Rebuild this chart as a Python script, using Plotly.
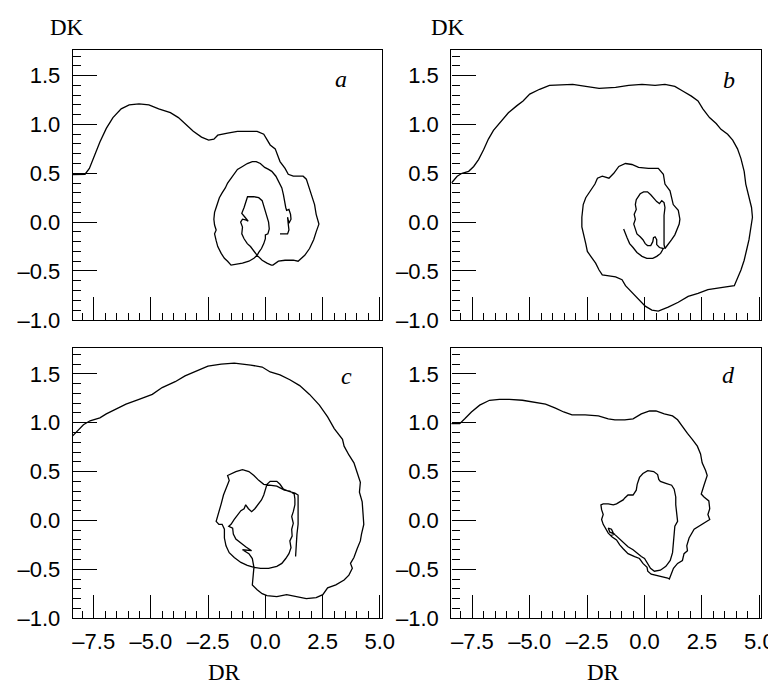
import plotly.graph_objects as go

# ---------------- data (DR, DK) ----------------
a_dr = [-8.42,-7.88,-7.69,-7.49,-7.23,-6.95,-6.66,-6.30,-5.95,-5.52,-5.09,-4.66,-4.15,-3.80,-3.44,-3.15,-2.79,-2.48,-2.25,-2.08,-1.65,-1.22,-0.79,-0.36,-0.07,0.07,0.21,0.43,0.57,0.64,0.86,1.00,1.22,1.65,1.79,1.91,2.01,2.15,2.22,2.34,2.22,2.11,1.93,1.72,1.43,1.22,0.86,0.57,0.33,
        0.26,0.07,-0.14,-0.36,-0.50,-0.65,-0.79,-0.93,-1.03,-1.00,-1.08,-1.00,-0.83,-0.75,-0.89,-1.03,-0.93,-0.86,-0.78,-0.50,-0.29,-0.14,-0.07,0.00,0.07,0.14,0.17,0.11,0.00,0.00,-0.07,-0.17,-0.29,-0.36,-0.50,-0.72,-1.00,-1.29,-1.50,-1.65,-1.79,-1.93,-2.08,-2.15,-2.22,-2.15,-2.22,-2.25,-2.22,-2.15,-2.08,-2.01,-1.89,-1.75,-1.65,-1.50,-1.36,-1.22,-1.00,-0.79,-0.57,-0.40,-0.22,-0.03,0.14,0.28,0.46,0.57,0.72,0.79,0.83,0.89,0.93,1.03,1.10,1.12,1.03,0.97,1.00,1.03,0.97,0.64]
a_dk = [0.486,0.49,0.55,0.67,0.82,0.96,1.07,1.16,1.20,1.21,1.20,1.16,1.12,1.07,0.99,0.93,0.87,0.84,0.85,0.89,0.91,0.93,0.93,0.93,0.90,0.85,0.79,0.75,0.67,0.62,0.55,0.49,0.47,0.47,0.44,0.35,0.27,0.18,0.08,-0.02,-0.10,-0.18,-0.27,-0.34,-0.40,-0.39,-0.39,-0.40,-0.44,
        -0.44,-0.42,-0.39,-0.34,-0.29,-0.25,-0.22,-0.17,-0.12,-0.05,0.00,0.03,0.02,0.01,0.05,0.09,0.15,0.20,0.26,0.26,0.25,0.22,0.17,0.12,0.07,0.00,-0.07,-0.12,-0.13,-0.17,-0.22,-0.27,-0.31,-0.34,-0.37,-0.40,-0.42,-0.43,-0.44,-0.40,-0.37,-0.32,-0.25,-0.19,-0.12,-0.08,-0.03,0.03,0.10,0.15,0.20,0.25,0.30,0.35,0.40,0.45,0.49,0.54,0.57,0.60,0.62,0.62,0.60,0.56,0.54,0.52,0.47,0.42,0.35,0.28,0.22,0.15,0.12,0.13,0.08,0.03,-0.01,0.05,-0.02,-0.08,-0.12,-0.12]

b_dr = [-8.41,-8.16,-7.95,-7.66,-7.44,-7.23,-7.01,-6.80,-6.58,-6.29,-5.93,-5.57,-5.29,-5.00,-4.57,-4.14,-3.56,-3.13,-2.56,-1.98,-1.26,-0.69,-0.11,0.46,0.89,1.32,1.68,2.04,2.33,2.54,2.83,3.12,3.33,3.62,3.84,4.05,4.20,4.34,4.41,4.55,4.66,4.70,4.63,4.55,4.45,4.34,4.20,4.05,3.91,3.33,2.76,2.33,1.90,1.47,1.03,0.60,0.32,0.03,-0.26,-0.55,-0.83,-0.98,-1.26,-1.55,-1.84,-1.98,-2.13,-2.34,-2.49,-2.56,-2.63,-2.73,-2.73,-2.67,-2.56,-2.34,-2.16,-2.05,-1.84,-1.55,-1.34,-1.12,-0.83,-0.55,-0.26,0.17,0.60,0.82,0.89,1.11,1.18,1.25,1.47,1.54,
        1.51,1.42,1.32,1.18,1.03,0.89,0.85,0.85,0.82,0.85,0.89,0.85,0.75,0.65,0.53,0.46,0.39,0.27,0.13,-0.04,-0.19,-0.26,-0.36,-0.40,-0.36,-0.45,-0.40,-0.47,-0.40,-0.33,-0.19,-0.07,0.03,0.13,0.27,0.36,0.39,0.46,0.53,0.53,0.65,0.82,0.70,0.53,0.36,0.10,-0.11,-0.33,-0.50,-0.65,-0.76,-0.83,-0.91]
b_dk = [0.40,0.47,0.50,0.52,0.57,0.64,0.74,0.85,0.94,1.02,1.12,1.19,1.24,1.31,1.36,1.40,1.41,1.41,1.39,1.37,1.38,1.40,1.41,1.40,1.41,1.39,1.34,1.29,1.24,1.16,1.07,1.01,0.95,0.90,0.84,0.75,0.65,0.52,0.39,0.25,0.15,0.05,-0.08,-0.18,-0.28,-0.39,-0.49,-0.57,-0.65,-0.67,-0.69,-0.73,-0.76,-0.82,-0.87,-0.91,-0.90,-0.86,-0.79,-0.72,-0.65,-0.59,-0.56,-0.55,-0.54,-0.49,-0.42,-0.35,-0.30,-0.22,-0.15,-0.05,0.05,0.18,0.25,0.32,0.39,0.45,0.47,0.45,0.50,0.57,0.60,0.59,0.56,0.55,0.55,0.49,0.39,0.32,0.25,0.18,0.12,0.03,
        -0.02,-0.08,-0.13,-0.18,-0.23,-0.27,-0.23,-0.13,-0.03,0.07,0.15,0.20,0.22,0.19,0.21,0.23,0.25,0.28,0.31,0.31,0.29,0.27,0.23,0.18,0.13,0.08,0.03,-0.02,-0.07,-0.12,-0.15,-0.18,-0.22,-0.24,-0.24,-0.20,-0.16,-0.15,-0.18,-0.23,-0.26,-0.27,-0.32,-0.35,-0.37,-0.37,-0.35,-0.31,-0.26,-0.22,-0.16,-0.11,-0.07]

c_dr = [-8.42,-8.17,-7.95,-7.66,-7.23,-6.95,-6.52,-6.09,-5.52,-4.94,-4.51,-3.94,-3.51,-3.01,-2.51,-1.93,-1.36,-0.64,-0.14,0.21,0.64,1.07,1.50,1.93,2.36,2.72,3.01,3.37,3.44,3.65,3.87,4.01,4.15,4.11,4.23,4.27,4.30,4.20,4.15,4.01,3.87,3.72,3.80,3.65,3.44,3.08,2.72,2.51,2.22,1.79,1.36,0.93,0.50,0.07,-0.14,-0.36,-0.57,-0.53,-0.50,
        -0.21,0.14,0.50,0.72,0.89,1.03,1.12,1.07,1.17,1.15,1.22,1.15,1.22,1.29,1.29,1.26,1.07,0.83,0.50,0.14,-0.07,-0.29,-0.50,-0.72,-1.00,-1.29,-1.50,-1.65,-1.58,-1.69,-1.83,-1.93,-2.01,-2.06,-2.12,-2.15,-2.03,-1.89,-1.79,-1.79,-1.72,-1.58,-1.36,-1.07,-0.79,-0.50,
        -0.57,-0.72,-1.00,-0.60,-0.86,-1.07,-1.29,-1.40,-1.43,-1.60,-1.50,-1.36,-1.22,-1.07,-0.93,-0.86,-0.74,-0.60,-0.46,-0.32,-0.17,-0.07,0.00,0.07,0.21,0.50,0.64,0.79,1.00,1.29,1.43,1.43,1.40,1.43,1.38,1.36,1.32]
c_dk = [0.865,0.93,0.98,1.02,1.05,1.09,1.14,1.19,1.24,1.29,1.36,1.42,1.48,1.53,1.58,1.60,1.61,1.59,1.57,1.52,1.49,1.44,1.38,1.29,1.18,1.06,0.94,0.83,0.76,0.67,0.59,0.49,0.39,0.29,0.19,0.06,-0.04,-0.14,-0.21,-0.29,-0.38,-0.44,-0.49,-0.56,-0.61,-0.66,-0.69,-0.76,-0.79,-0.80,-0.78,-0.76,-0.78,-0.77,-0.75,-0.71,-0.66,-0.58,-0.48,
        -0.49,-0.49,-0.47,-0.44,-0.39,-0.34,-0.28,-0.21,-0.16,-0.09,-0.03,0.04,0.09,0.16,0.22,0.27,0.30,0.31,0.35,0.36,0.37,0.41,0.46,0.50,0.52,0.50,0.48,0.46,0.41,0.34,0.26,0.17,0.11,0.05,0.02,-0.01,-0.04,-0.04,-0.09,-0.18,-0.26,-0.33,-0.38,-0.43,-0.46,-0.48,
        -0.39,-0.34,-0.30,-0.31,-0.27,-0.23,-0.19,-0.14,-0.08,-0.06,-0.04,0.01,0.06,0.10,0.12,0.16,0.12,0.09,0.12,0.16,0.21,0.26,0.32,0.37,0.40,0.40,0.37,0.32,0.30,0.28,0.26,0.16,0.06,-0.04,-0.14,-0.24,-0.37]

d_dr = [-8.43,-8.05,-7.83,-7.54,-7.18,-6.75,-6.32,-5.89,-5.32,-4.74,-4.31,-3.88,-3.52,-3.16,-2.59,-2.01,-1.58,-1.29,-0.86,-0.50,-0.14,0.22,0.50,0.86,1.22,1.44,1.65,1.87,2.08,2.30,2.44,2.51,2.66,2.73,2.59,2.47,2.59,2.80,2.84,2.76,2.84,2.59,2.16,1.94,1.84,1.87,1.72,1.65,1.44,1.26,1.15,1.08,1.01,
        0.65,0.29,0.14,0.11,-0.07,-0.22,-0.43,-0.72,-0.93,-1.08,-1.22,-1.41,-1.58,-1.70,-1.80,-1.87,-1.80,-1.87,-1.90,-1.80,-1.58,-1.36,-1.22,-1.08,-0.93,-0.86,-0.72,-0.50,-0.36,-0.32,-0.22,-0.07,0.14,0.40,0.57,0.62,0.69,0.93,1.18,1.29,1.36,1.36,1.39,1.44,1.32,1.29,1.26,1.22,1.12,0.93,0.69,0.43,0.26,0.14,0.00,-0.14,-0.29,-0.50,-0.72,-0.89,-1.08,-1.22,-1.36,-1.44,-1.58,-1.51,-1.29,-1.44]
d_dk = [0.99,0.99,1.04,1.11,1.18,1.23,1.24,1.24,1.23,1.21,1.19,1.15,1.11,1.08,1.08,1.07,1.04,1.03,1.03,1.04,1.09,1.12,1.12,1.09,1.07,1.03,0.96,0.89,0.83,0.76,0.68,0.59,0.51,0.46,0.36,0.27,0.24,0.20,0.12,0.06,0.01,-0.03,-0.09,-0.18,-0.26,-0.31,-0.34,-0.41,-0.44,-0.49,-0.55,-0.60,-0.59,
        -0.57,-0.55,-0.52,-0.48,-0.44,-0.39,-0.37,-0.34,-0.29,-0.25,-0.20,-0.17,-0.13,-0.08,-0.04,0.01,0.06,0.11,0.16,0.17,0.17,0.16,0.17,0.19,0.21,0.23,0.26,0.26,0.31,0.37,0.44,0.48,0.51,0.50,0.47,0.42,0.40,0.38,0.36,0.32,0.24,0.16,0.07,-0.01,-0.06,-0.14,-0.24,-0.33,-0.41,-0.47,-0.51,-0.52,-0.49,-0.44,-0.39,-0.37,-0.34,-0.30,-0.27,-0.23,-0.19,-0.16,-0.13,-0.09,-0.08,-0.12,-0.14,-0.15]

panel_letters = ["a", "b", "c", "d"]
x_ticks = [-7.5, -5.0, -2.5, 0.0, 2.5, 5.0]
y_ticks = [-1.0, -0.5, 0.0, 0.5, 1.0, 1.5]

# ---------------- figure ----------------
W, H = 776, 692
fig = go.Figure()

series = [(a_dr, a_dk), (b_dr, b_dk), (c_dr, c_dk), (d_dr, d_dk)]
for i, (xs, ys) in enumerate(series):
    sfx = "" if i == 0 else str(i + 1)
    fig.add_trace(go.Scatter(x=xs, y=ys, mode="lines",
                             line=dict(color="black", width=1.3),
                             xaxis="x" + sfx, yaxis="y" + sfx,
                             showlegend=False, hoverinfo="skip"))

def px_x(a, b):
    return [a / W, b / W]

def px_y(top, bottom):
    return [1 - bottom / H, 1 - top / H]

tickfont = dict(family="Liberation Sans", size=22, color="black")
line_w = 1.4

def fmt(v):
    return ("%.1f" % v).replace("-", "\u2013")

def xaxis(dom, anchor, labels):
    return dict(domain=dom, anchor=anchor, range=[-8.41, 5.08],
                tickmode="array", tickvals=x_ticks,
                ticktext=[fmt(v) for v in x_ticks],
                showticklabels=labels, ticks="inside", ticklen=23,
                tickwidth=line_w, tickcolor="black",
                minor=dict(ticks="inside", ticklen=7, dtick=0.5, tick0=0,
                           tickwidth=line_w, tickcolor="black", showgrid=False),
                showline=True, linecolor="black", linewidth=line_w, mirror=True,
                showgrid=False, zeroline=False, tickfont=tickfont,
                ticklabelstandoff=3, fixedrange=True)

def yaxis(dom, anchor):
    return dict(domain=dom, anchor=anchor, range=[-1.002, 1.76],
                tickmode="array", tickvals=y_ticks,
                ticktext=[fmt(v) for v in y_ticks],
                ticks="inside", ticklen=24, tickwidth=line_w, tickcolor="black",
                minor=dict(ticks="inside", ticklen=8, dtick=0.1, tick0=0,
                           tickwidth=line_w, tickcolor="black", showgrid=False),
                showline=True, linecolor="black", linewidth=line_w, mirror=True,
                showgrid=False, zeroline=False, tickfont=tickfont,
                ticklabelstandoff=7, fixedrange=True)

left_x = px_x(66, 380)
right_x = px_x(451, 766)
top_y = px_y(43, 318)
bot_y = px_y(347, 622)

fig.update_layout(
    width=W, height=H,
    margin=dict(l=0, r=0, t=0, b=0),
    paper_bgcolor="white", plot_bgcolor="white",
    xaxis=xaxis(left_x, "y", False), yaxis=yaxis(top_y, "x"),
    xaxis2=xaxis(right_x, "y2", False), yaxis2=yaxis(top_y, "x2"),
    xaxis3=xaxis(left_x, "y3", True), yaxis3=yaxis(bot_y, "x3"),
    xaxis4=xaxis(right_x, "y4", True), yaxis4=yaxis(bot_y, "x4"),
)

serif = "Liberation Serif"
ann = []
for cx in (60, 448):
    ann.append(dict(text="DK", x=cx / W, y=1 - 20 / H, xref="paper", yref="paper",
                    showarrow=False, font=dict(family=serif, size=23, color="black"),
                    xanchor="center", yanchor="middle"))
for cx in (220, 606):
    ann.append(dict(text="DR", x=cx / W, y=1 - 677 / H, xref="paper", yref="paper",
                    showarrow=False, font=dict(family=serif, size=23, color="black"),
                    xanchor="center", yanchor="middle"))
letter_pos = [(339, 72), (733, 73), (344, 375), (733, 374)]
for letter, (cx, cy) in zip(panel_letters, letter_pos):
    ann.append(dict(text="<i>%s</i>" % letter, x=cx / W, y=1 - cy / H,
                    xref="paper", yref="paper", showarrow=False,
                    font=dict(family=serif, size=24, color="black"),
                    xanchor="center", yanchor="middle"))
fig.update_layout(annotations=ann)

fig.write_html("out.html")
